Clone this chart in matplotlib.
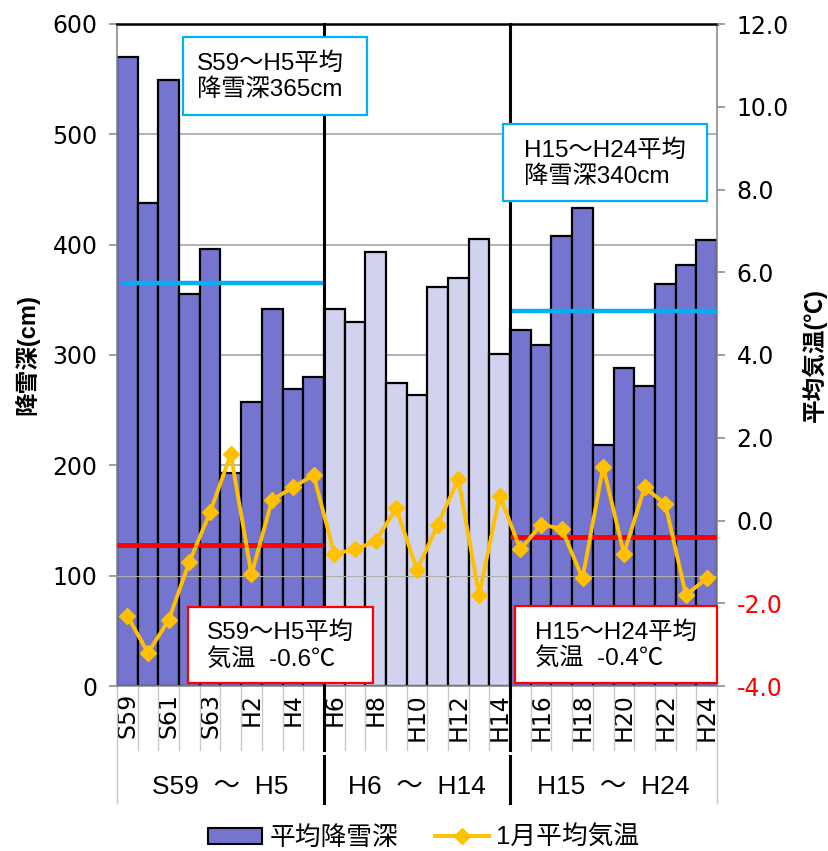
import matplotlib
matplotlib.use('Agg')
import matplotlib.pyplot as plt
from matplotlib.patches import Rectangle, Patch
from matplotlib.lines import Line2D
import matplotlib.transforms as mtransforms

# ---------------- data ----------------
years = ['S59', 'S60', 'S61', 'S62', 'S63', 'H1', 'H2', 'H3', 'H4', 'H5',
         'H6', 'H7', 'H8', 'H9', 'H10', 'H11', 'H12', 'H13', 'H14',
         'H15', 'H16', 'H17', 'H18', 'H19', 'H20', 'H21', 'H22', 'H23', 'H24']
snow = [570, 438, 549, 355, 396, 193, 257, 342, 269, 280,
        342, 330, 393, 275, 264, 362, 370, 405, 301,
        323, 309, 408, 433, 218, 288, 272, 364, 382, 404]
temp = [-2.3, -3.2, -2.4, -1.0, 0.2, 1.6, -1.3, 0.5, 0.8, 1.1,
        -0.8, -0.7, -0.5, 0.3, -1.2, -0.1, 1.0, -1.8, 0.6,
        -0.7, -0.1, -0.2, -1.4, 1.3, -0.8, 0.8, 0.4, -1.8, -1.4]
period_labels = ['S59  ～  H5', 'H6  ～  H14', 'H15  ～  H24']
period_start = [0, 10, 19]
period_end = [10, 19, 29]
snow_avg = [365, None, 340]
temp_avg = [-0.6, None, -0.4]
snow_note = ['S59～H5平均\n降雪深365cm', None, 'H15～H24平均\n降雪深340cm']
temp_note = ['S59～H5平均\n気温  -0.6℃', None, 'H15～H24平均\n気温  -0.4℃']
left_ticks = [0, 100, 200, 300, 400, 500, 600]
right_ticks = [-4.0, -2.0, 0.0, 2.0, 4.0, 6.0, 8.0, 10.0, 12.0]
legend_labels = ['平均降雪深', '1月平均気温']
axis_titles = ['降雪深(cm)', '平均気温(℃)']

# ---------------- style ----------------
DARK = '#7575CF'
LIGHT = '#D0D2EE'
ORANGE = '#FFC000'
BLUE = '#00B0F0'
RED = '#FF0000'
GRAY = '#8C8C8C'
GRID = '#A6A6A6'
JP = ['Liberation Sans', 'Noto Sans CJK JP']
plt.rcParams['font.family'] = ['DejaVu Sans', 'Noto Sans CJK JP']

W, H = 829, 851
fig = plt.figure(figsize=(W / 100, H / 100), dpi=100)

def fx(px):
    return px / W

def fy(py):
    return 1 - py / H

L, R, T, B = 117, 717, 24, 686
ax = fig.add_axes([fx(L), fy(B), (R - L) / W, (B - T) / H])
ax2 = ax.twinx()

n = len(years)
xs = list(range(n))
colors = []
for i in range(n):
    colors.append(LIGHT if period_start[1] <= i < period_end[1] else DARK)

ax.set_axisbelow(True)
ax.yaxis.grid(True, color=GRID, lw=1.2, zorder=0)
ax.bar(xs, snow, width=1.0, color=colors, edgecolor='black', lw=1.6, zorder=2)
ax.axhline(100, color='#B0B0A8', lw=0.8, zorder=3)

# snow average lines
for k in range(3):
    if snow_avg[k] is not None:
        x0 = period_start[k] - 0.5 + (0.25 if k == 0 else 0.08)
        x1 = period_end[k] - 0.5
        ax.plot([x0, x1], [snow_avg[k], snow_avg[k]], color=BLUE, lw=3.2, zorder=4,
                solid_capstyle='butt')

ax.set_xlim(-0.5, n - 0.5)
ax.set_ylim(0, 600)
ax.set_yticks(left_ticks)
ax.set_yticklabels([str(v) for v in left_ticks])
ax.tick_params(axis='y', direction='out', length=6, width=1.2, color=GRAY,
               labelsize=17, pad=8)
ax.set_xticks(xs[::2])
ax.set_xticklabels(years[::2], rotation=90)
ax.tick_params(axis='x', length=0, labelsize=17, pad=5)

for s in ['left', 'right', 'bottom']:
    ax.spines[s].set_color(GRAY)
    ax.spines[s].set_linewidth(1.2)
ax.spines['top'].set_color('black')
ax.spines['top'].set_linewidth(1.8)

# temperature axis
for k in range(3):
    if temp_avg[k] is not None:
        x0 = period_start[k] - 0.5
        x1 = period_end[k] - 0.5 - (0.05 if k == 0 else 0)
        ax2.plot([x0, x1], [temp_avg[k], temp_avg[k]], color=RED, lw=3.6, zorder=3,
                 solid_capstyle='butt')
ax2.plot(xs, temp, color=ORANGE, lw=2.8, marker='D', markersize=8.5, zorder=4)
ax2.set_ylim(-4, 12)
ax2.set_yticks(right_ticks)
ax2.set_yticklabels(['%.1f' % v for v in right_ticks])
for lab, v in zip(ax2.get_yticklabels(), right_ticks):
    if v < 0:
        lab.set_color(RED)
ax2.tick_params(axis='y', direction='out', length=6, width=1.2, color=GRAY,
                labelsize=17, pad=8)
for s in ['left', 'right', 'bottom', 'top']:
    ax2.spines[s].set_visible(False)

# axis titles
fig.text(fx(27), fy(355), axis_titles[0], rotation=90, ha='center', va='center',
         fontsize=17, fontweight='bold', family=JP)
fig.text(fx(814), fy(355), axis_titles[1], rotation=90, ha='center', va='center',
         fontsize=17, fontweight='bold', family=JP)

# category axis structure lines
trans = mtransforms.blended_transform_factory(ax.transData, ax.transAxes)
y_tick_end = -(750 - B) / (B - T)
y_grp_end = -(803 - B) / (B - T)
y_gap = -(756 - B) / (B - T)
for i in range(1, n):
    b = i - 0.5
    if b in (period_start[1] - 0.5, period_start[2] - 0.5):
        continue
    ax.plot([b, b], [0, y_tick_end], color='#C8C8C8', lw=1.0, transform=trans,
            clip_on=False, zorder=1)
for b in (-0.5, n - 0.5):
    ax.plot([b, b], [0, y_grp_end], color='#C8C8C8', lw=1.0, transform=trans,
            clip_on=False, zorder=1)
for k in (1, 2):
    b = period_start[k] - 0.5
    ax.plot([b, b], [1, y_tick_end], color='black', lw=2.2, transform=trans,
            clip_on=False, zorder=5)
    ax.plot([b, b], [y_gap, y_grp_end], color='black', lw=2.2, transform=trans,
            clip_on=False, zorder=5)
for k in range(3):
    cx = (period_start[k] + period_end[k] - 1) / 2
    ax.text(cx, -(787 - B) / (B - T), period_labels[k], transform=trans,
            ha='center', va='center', fontsize=19, family=JP)

# annotation boxes (pixel positions)
def note_box(x0, y0, x1, y1, txt, ec, tx):
    rect = Rectangle((fx(x0), fy(y1)), (x1 - x0) / W, (y1 - y0) / H,
                     transform=fig.transFigure, facecolor='white', edgecolor=ec,
                     lw=1.6, zorder=10)
    fig.add_artist(rect)
    fig.text(fx(tx), fy((y0 + y1) / 2 + 1), txt, ha='left', va='center',
             fontsize=17.5, family=JP, linespacing=1.2, zorder=11)

note_box(183, 37, 367, 115, snow_note[0], BLUE, 197)
note_box(503, 124, 707, 201, snow_note[2], BLUE, 524)
note_box(188, 607, 373, 683, temp_note[0], RED, 207)
note_box(515, 606, 717, 683, temp_note[2], RED, 535)

# legend
handles = [Patch(facecolor=DARK, edgecolor='black', lw=1.5),
           Line2D([0], [0], color=ORANGE, lw=2.8, marker='D', markersize=8.5)]
fig.legend(handles, legend_labels, loc='center', bbox_to_anchor=(fx(424), fy(838)),
           ncol=2, frameon=False, prop={'family': JP, 'size': 18.5},
           handlelength=2.1, handleheight=0.6, handletextpad=0.3, columnspacing=1.4)

fig.savefig('out.png', dpi=100)
